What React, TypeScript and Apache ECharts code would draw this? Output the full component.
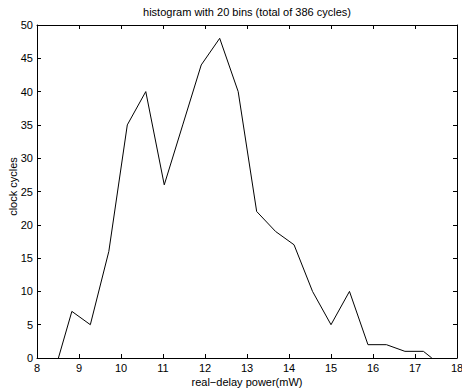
import React, { useEffect, useRef } from "react";
import * as echarts from "echarts";

const titleText = "histogram with 20 bins (total of 386 cycles)";
const xLabel = "real\u2212delay power(mW)";
const yLabel = "clock cycles";
const binCenters = [8.51, 8.83, 9.27, 9.71, 10.15, 10.59, 11.03, 11.47, 11.91, 12.35, 12.79, 13.23, 13.68, 14.12, 14.56, 15.0, 15.44, 15.88, 16.32, 16.76, 17.2, 17.4];
const counts = [0, 7, 5, 16, 35, 40, 26, 35, 44, 48, 40, 22, 19, 17, 10, 5, 10, 2, 2, 1, 1, 0];

const FONT = "Liberation Sans, Arial, Helvetica, sans-serif";

export default function App() {
  const ref = useRef<HTMLDivElement>(null);
  useEffect(() => {
    if (!ref.current) return;
    const chart = echarts.init(ref.current, null, { renderer: "svg" });
    const axisCommon = {
      axisLine: { show: true, onZero: false, lineStyle: { color: "#000", width: 1 } },
      axisTick: { show: true, inside: true, length: 4, lineStyle: { color: "#000", width: 1 } },
      splitLine: { show: false },
    };
    chart.setOption({
      animation: false,
      backgroundColor: "#fff",
      title: {
        text: titleText,
        left: 247,
        textAlign: "center",
        top: 6,
        padding: 0,
        textStyle: { fontFamily: FONT, fontSize: 11, fontWeight: "normal", color: "#000" },
      },
      grid: { left: 37, right: 5, top: 25, bottom: 33, containLabel: false, outerBoundsMode: "none" },
      xAxis: [
        {
          type: "value",
          min: 8,
          max: 18,
          interval: 1,
          position: "bottom",
          name: xLabel,
          nameLocation: "middle",
          nameGap: 18,
          nameMoveOverlap: false,
          nameTextStyle: { fontFamily: FONT, fontSize: 11, color: "#000" },
          axisLabel: { fontFamily: FONT, fontSize: 11, color: "#000", margin: 4 },
          ...axisCommon,
        },
        {
          type: "value",
          min: 8,
          max: 18,
          interval: 1,
          position: "top",
          axisLabel: { show: false },
          ...axisCommon,
        },
      ],
      yAxis: [
        {
          type: "value",
          min: 0,
          max: 50,
          interval: 5,
          position: "left",
          name: yLabel,
          nameLocation: "middle",
          nameGap: 19,
          nameMoveOverlap: false,
          nameTextStyle: { fontFamily: FONT, fontSize: 11, color: "#000", padding: [0, 0, 0, 10] },
          axisLabel: { fontFamily: FONT, fontSize: 11, color: "#000", margin: 4 },
          ...axisCommon,
        },
        {
          type: "value",
          min: 0,
          max: 50,
          interval: 5,
          position: "right",
          axisLabel: { show: false },
          ...axisCommon,
        },
      ],
      series: [
        {
          type: "line",
          data: binCenters.map((x, i) => [x, counts[i]]),
          showSymbol: false,
          symbol: "none",
          lineStyle: { color: "#000", width: 1 },
          xAxisIndex: 0,
          yAxisIndex: 0,
        },
      ],
    });
    return () => chart.dispose();
  }, []);
  return <div ref={ref} style={{ width: 462, height: 391, position: "absolute", left: 0, top: 0 }} />;
}
